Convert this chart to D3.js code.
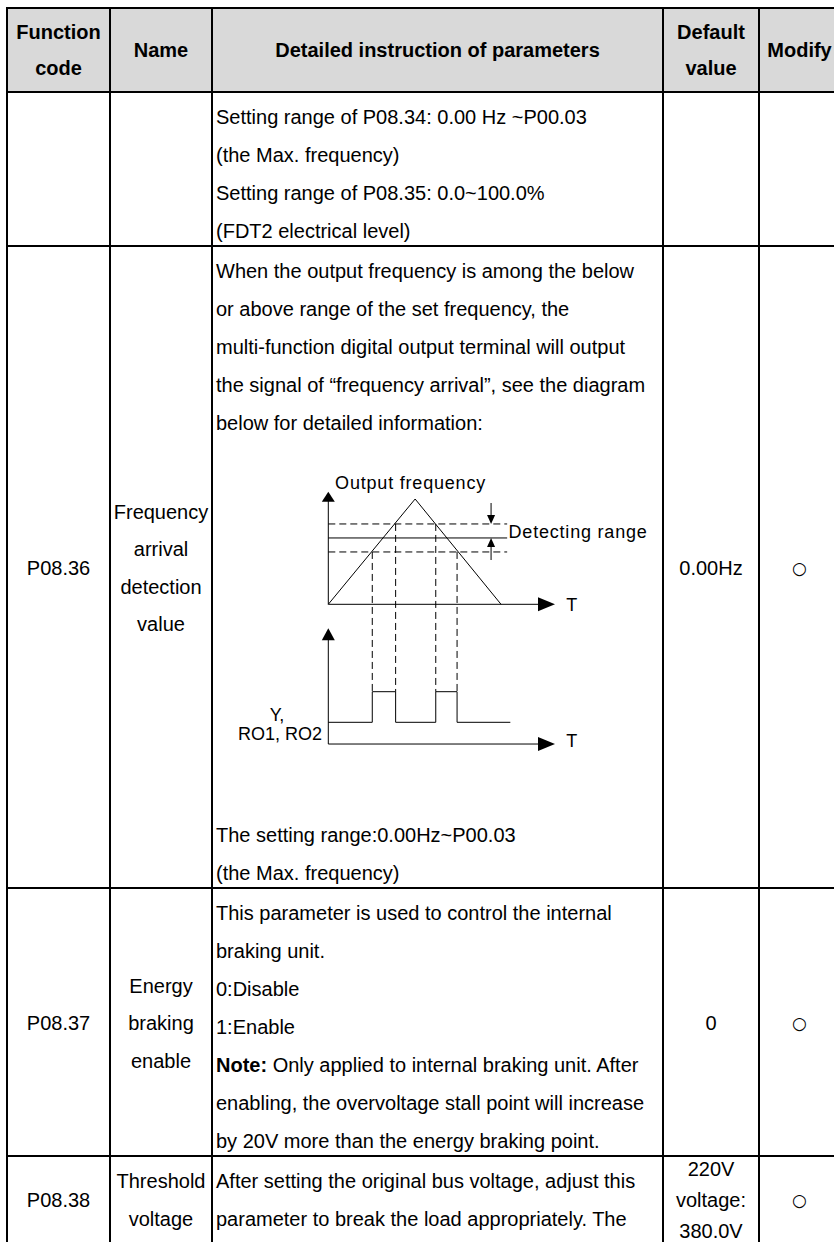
<!DOCTYPE html>
<html>
<head>
<meta charset="utf-8">
<script src="https://cdn.jsdelivr.net/npm/d3@7"></script>
<style>
  body { margin: 0; background: #fff; }
  svg text { font-family: "Liberation Sans", Arial, sans-serif; fill: #000; }
</style>
</head>
<body>
<div id="chart"></div>
<script>
// table content
const headers = [["Function", "code"], ["Name"], ["Detailed instruction of parameters"], ["Default", "value"], ["Modify"]];
const codes = ["", "P08.36", "P08.37", "P08.38"];
const names = [[], ["Frequency", "arrival", "detection", "value"], ["Energy", "braking", "enable"], ["Threshold", "voltage"]];
const detailsTop = [
    ["Setting range of P08.34: 0.00 Hz ~P00.03", "(the Max. frequency)", "Setting range of P08.35: 0.0~100.0%", "(FDT2 electrical level)"],
    ["When the output frequency is among the below", "or above range of the set frequency, the",
     "multi-function digital output terminal will output", "the signal of \u201cfrequency arrival\u201d, see the diagram",
     "below for detailed information:"],
    ["This parameter is used to control the internal", "braking unit.", "0:Disable", "1:Enable",
     "Note: Only applied to internal braking unit. After", "enabling, the overvoltage stall point will increase",
     "by 20V more than the energy braking point."],
    ["After setting the original bus voltage, adjust this", "parameter to break the load appropriately. The"]
];
const detailsBottom = [[], ["The setting range:0.00Hz~P00.03", "(the Max. frequency)"], [], []];
const defaults = [[], ["0.00Hz"], ["0"], ["220V", "voltage:", "380.0V"]];
const modifies = ["", "\u25CB", "\u25CB", "\u25CB"];

// diagram data (time 0..100, frequency 0..100)
const freqCurve = [[0, 0], [38.3, 100], [76.2, 0]];
const detectLevels = [76.3, 63, 49.7];        // upper bound, set frequency, lower bound
const detectDash = [true, false, true];
const edgeTimes = [19.4, 29.7, 47.4, 56.8];
const edgeFreqs = [49.7, 76.3, 76.3, 49.7];
const arrivalSignal = [[0, 0], [19.4, 0], [19.4, 1], [29.7, 1], [29.7, 0], [47.4, 0], [47.4, 1], [56.8, 1], [56.8, 0], [80.3, 0]];

const W = 834, H = 1242;
const colX = [7, 110, 212, 663, 759, 840];
const rowY = [8, 92, 246, 888, 1156, 1330];
const pitch = 38, fs = 20;

const svg = d3.select("#chart").append("svg").attr("width", W).attr("height", H);

// header background
svg.append("rect").attr("x", colX[0]).attr("y", rowY[0])
    .attr("width", colX[5] - colX[0]).attr("height", rowY[1] - rowY[0]).attr("fill", "#d9d9d9");

// header text
headers.forEach((lines, c) => {
    const cx = (colX[c] + colX[c + 1]) / 2;
    const cy = (rowY[0] + rowY[1]) / 2;
    lines.forEach((t, i) => {
        svg.append("text").attr("x", cx).attr("y", cy + (i - (lines.length - 1) / 2) * 36)
            .attr("dy", "0.35em").attr("text-anchor", "middle")
            .style("font-size", fs + "px").style("font-weight", "bold").text(t);
    });
});

// centered cell helper
function centered(lines, c, cy, p, size, family) {
    const cx = (colX[c] + colX[c + 1]) / 2;
    lines.forEach((t, i) => {
        const el = svg.append("text").attr("x", cx).attr("y", cy + (i - (lines.length - 1) / 2) * p)
            .attr("dy", "0.35em").attr("text-anchor", "middle").style("font-size", size + "px").text(t);
        if (family) el.style("font-family", family);
    });
}

codes.forEach((code, r) => {
    const top = rowY[r + 1];
    const bottom = Math.min(rowY[r + 2], H);
    const cy = (top + bottom) / 2 + 1;
    centered([code], 0, cy, pitch, fs);
    centered(names[r], 1, cy, 37.5, fs);
    centered(defaults[r], 3, cy, 31, fs);
    centered([modifies[r]], 4, cy, pitch, 17, "DejaVu Sans");

    detailsTop[r].forEach((t, i) => {
        const txt = svg.append("text").attr("x", colX[2] + 4).attr("y", top + 25 + i * pitch)
            .attr("dy", "0.35em").style("font-size", fs + "px");
        if (t.startsWith("Note:")) {
            txt.append("tspan").style("font-weight", "bold").text("Note:");
            txt.append("tspan").text(t.slice(5));
        } else txt.text(t);
    });
    const nb = detailsBottom[r].length;
    detailsBottom[r].forEach((t, i) => {
        svg.append("text").attr("x", colX[2] + 4).attr("y", bottom - 15 - (nb - 1 - i) * pitch)
            .attr("dy", "0.35em").style("font-size", fs + "px").text(t);
    });
});

// grid lines
const grid = svg.append("g").attr("stroke", "#000").attr("stroke-width", 2);
rowY.forEach(y => grid.append("line").attr("x1", colX[0] - 1).attr("x2", colX[5]).attr("y1", y).attr("y2", y));
colX.forEach(x => grid.append("line").attr("x1", x).attr("x2", x).attr("y1", rowY[0]).attr("y2", H));

// ---- frequency arrival diagram ----
const xT = d3.scaleLinear().domain([0, 100]).range([328.3, 555]);
const fY = d3.scaleLinear().domain([0, 100]).range([604.3, 499]);
const sY = d3.scaleLinear().domain([0, 1]).range([722.3, 691.7]);
const lowAxisY = sY(-0.71);

const dg = svg.append("g").attr("fill", "none").attr("stroke", "#000").attr("stroke-width", 1);
const line = d3.line().x(d => xT(d[0]));

function arrow(x, y, dir, len, half) {
    // filled arrowhead with tip at (x, y)
    let pts;
    if (dir === "up") pts = [[x, y], [x - half, y + len], [x + half, y + len]];
    else if (dir === "down") pts = [[x, y], [x - half, y - len], [x + half, y - len]];
    else pts = [[x, y], [x - len, y - half], [x - len, y + half]];
    svg.append("path").attr("d", "M" + pts.join("L") + "Z").attr("fill", "#000");
}

// upper axes
dg.append("line").attr("x1", xT(0)).attr("x2", xT(0)).attr("y1", fY(0)).attr("y2", fY(105));
arrow(xT(0), fY(107), "up", 10, 6.5);
dg.append("line").attr("x1", xT(0)).attr("x2", xT(94)).attr("y1", fY(0)).attr("y2", fY(0));
arrow(xT(100), fY(0), "right", 17, 7);

// detection levels
detectLevels.forEach((lv, i) => {
    dg.append("line").attr("x1", xT(0)).attr("x2", xT(78.9)).attr("y1", fY(lv)).attr("y2", fY(lv))
        .attr("stroke-dasharray", detectDash[i] ? "7,4" : null);
});

// output frequency triangle
dg.append("path").attr("d", line.y(d => fY(d[1]))(freqCurve));

// detecting range arrows
const ax = xT(71.8);
dg.append("line").attr("x1", ax).attr("x2", ax).attr("y1", 503).attr("y2", fY(detectLevels[0]) - 8);
arrow(ax, fY(detectLevels[0]), "down", 9, 4);
dg.append("line").attr("x1", ax).attr("x2", ax).attr("y1", fY(detectLevels[1]) + 8).attr("y2", 560);
arrow(ax, fY(detectLevels[1]), "up", 9, 4);

// dashed projections
edgeTimes.forEach((t, i) => {
    dg.append("line").attr("x1", xT(t)).attr("x2", xT(t)).attr("y1", fY(edgeFreqs[i])).attr("y2", sY(1))
        .attr("stroke-dasharray", "7,4");
});

// lower axes
dg.append("line").attr("x1", xT(0)).attr("x2", xT(0)).attr("y1", lowAxisY).attr("y2", sY(3));
arrow(xT(0), sY(3.07), "up", 12, 6.5);
dg.append("line").attr("x1", xT(0)).attr("x2", xT(94)).attr("y1", lowAxisY).attr("y2", lowAxisY);
arrow(xT(100), lowAxisY, "right", 17, 7);

// arrival signal
dg.append("path").attr("d", line.y(d => sY(d[1]))(arrivalSignal));

// diagram labels
function label(t, x, y, anchor, ls) {
    svg.append("text").attr("x", x).attr("y", y).attr("dy", "0.35em").attr("text-anchor", anchor || "start")
        .style("font-size", "18px").style("letter-spacing", (ls || 0) + "px").text(t);
}
label("Output frequency", xT(3), 483, "start", 0.8);
label("Detecting range", xT(79.5), 532, "start", 0.8);
label("T", xT(105), fY(0));
label("T", xT(105), lowAxisY - 3);
label("Y,", 277, 715, "middle");
label("RO1, RO2", 322, 734, "end");
</script>
</body>
</html>
